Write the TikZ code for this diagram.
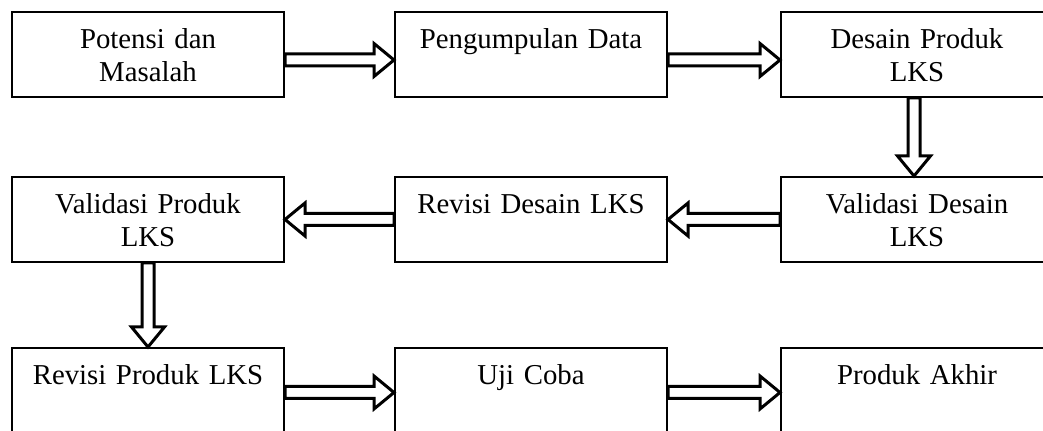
\documentclass[tikz,border=0pt]{standalone}
\usepackage{fontspec}
\setmainfont{Liberation Serif}
\usetikzlibrary{calc}

\begin{document}
\begin{tikzpicture}[x=1pt,y=1pt,
    box/.style={draw,line width=1pt,inner sep=0pt,text width=136pt,align=center,
      text height=18.5pt,text depth=24pt,font=\fontsize{14.4}{16.5}\selectfont},
    hollow/.style={draw,line width=1.5pt,line join=miter,
      to path={($(\tikztostart)!3pt!90:(\tikztotarget)$)
        -- ($(\tikztotarget)!10.44pt!-16.7:(\tikztostart)$)
        -- ($(\tikztotarget)!12.96pt!-39.5:(\tikztostart)$)
        -- (\tikztotarget)
        -- ($(\tikztotarget)!12.96pt!39.5:(\tikztostart)$)
        -- ($(\tikztotarget)!10.44pt!16.7:(\tikztostart)$)
        -- ($(\tikztostart)!3pt!-90:(\tikztotarget)$) -- cycle}}]
  \useasboundingbox (0,0) rectangle (521.5,215.5);

  \node[box] (potensi) at (74,188.25) {Potensi dan\\Masalah};
  \node[box] (data) at (265.5,188.25) {Pengumpulan Data};
  \node[box] (desain) at (458.5,188.25) {Desain Produk\\LKS};

  \node[box] (valdesain) at (458.5,105.75) {Validasi Desain\\LKS};
  \node[box] (revdesain) at (265.5,105.75) {Revisi Desain LKS};
  \node[box] (valproduk) at (74,105.75) {Validasi Produk\\LKS};

  \node[box] (revproduk) at (74,20.25) {Revisi Produk LKS};
  \node[box] (ujicoba) at (265.5,20.25) {Uji Coba};
  \node[box] (akhir) at (458.5,20.25) {Produk Akhir};

  \path[hollow] ([yshift=-2.75pt]potensi.east) to ([yshift=-2.75pt]data.west);
  \path[hollow] ([yshift=-2.75pt]data.east) to ([yshift=-2.75pt]desain.west);
  \path[hollow] ([xshift=-1.5pt]desain.south) to ([xshift=-1.5pt]valdesain.north);
  \path[hollow] (valdesain.west) to (revdesain.east);
  \path[hollow] (revdesain.west) to (valproduk.east);
  \path[hollow] (valproduk.south) to (revproduk.north);
  \path[hollow] ([yshift=-1pt]revproduk.east) to ([yshift=-1pt]ujicoba.west);
  \path[hollow] ([yshift=-1pt]ujicoba.east) to ([yshift=-1pt]akhir.west);
\end{tikzpicture}
\end{document}
